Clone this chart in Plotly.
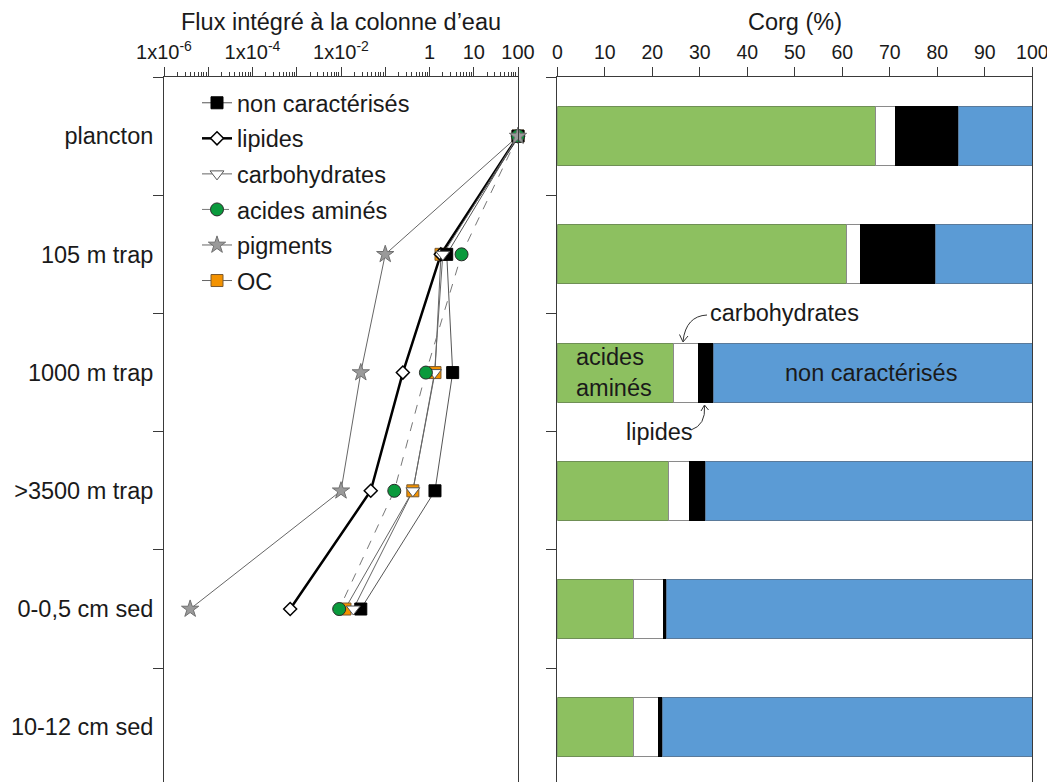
import plotly.graph_objects as go

# ---------------- data ----------------
categories = ["plancton", "105 m trap", "1000 m trap", ">3500 m trap", "0-0,5 cm sed", "10-12 cm sed"]

# Flux intégré à la colonne d'eau (log scale)
flux_non_caract = [100, 2.45, 3.34, 1.33, 0.028, None]
flux_lipides = [100, 1.8, 0.25, 0.047, 7.1e-4, None]
flux_carbo = [100, 2.0, 1.3, 0.42, 0.019, None]
flux_acides = [100, 5.3, 0.83, 0.16, 0.0091, None]
flux_pigments = [100, 0.1, 0.028, 0.01, 3.9e-6, None]
flux_oc = [100, 1.82, 1.33, 0.42, 0.0123, None]

# Corg (%) stacked composition
corg_acides = [67.0, 60.8, 24.4, 23.4, 16.0, 16.0]
corg_carbo = [4.2, 3.1, 5.4, 4.5, 6.3, 5.4]
corg_lipides = [13.2, 15.8, 3.0, 3.3, 0.6, 0.7]
corg_non_caract = [15.6, 20.3, 67.2, 68.8, 77.1, 77.9]

log_tick_vals = [1e-6, 1e-5, 1e-4, 1e-3, 1e-2, 1e-1, 1, 10, 100]
log_tick_text = ["1x10<sup>-6</sup>", "", "1x10<sup>-4</sup>", "", "1x10<sup>-2</sup>", "", "1", "10", "100"]

# ---------------- style / geometry ----------------
OX, OY = 8, 8              # page body margin offset
W, H = 1055 - OX, 782 - OY
TOP = 77 - OY
FONT = "Liberation Sans, Arial, sans-serif"
TXT = "#1a1a1a"
AX = "#3a3a3a"
GREEN_BAR = "#8DC060"
BLUE_BAR = "#5B9BD5"
FS = 23.5


def px(x):
    return (x - OX) / W


def py(y):
    return (H - (y - OY)) / (H - TOP)


series = [
    ("non caractérisés", flux_non_caract, dict(color="#555555", width=1),
     dict(symbol="square", size=12, color="black", line=dict(color="black", width=1))),
    ("lipides", flux_lipides, dict(color="black", width=2.5),
     dict(symbol="diamond", size=10, color="white", line=dict(color="black", width=1.5))),
    ("carbohydrates", flux_carbo, dict(color="#666666", width=1),
     dict(symbol="triangle-down", size=12, color="white", line=dict(color="#555555", width=1))),
    ("acides aminés", flux_acides, dict(color="#777777", width=1, dash="dash"),
     dict(symbol="circle", size=13, color="#0A9A3C", line=dict(color="#2a2a2a", width=1))),
    ("pigments", flux_pigments, dict(color="#666666", width=1),
     dict(symbol="star", size=13, color="#9a9a9a", line=dict(color="#707070", width=1))),
    ("OC", flux_oc, dict(color="#666666", width=1),
     dict(symbol="square", size=12, color="#F39200", line=dict(color="#7a5a30", width=1))),
]

draw_order = ["OC", "lipides", "non caractérisés", "carbohydrates", "acides aminés", "pigments"]
by_name = {s[0]: s for s in series}

fig = go.Figure()

for name in draw_order:
    n, data, line, marker = by_name[name]
    fig.add_trace(go.Scatter(x=data, y=categories, mode="lines", line=line, cliponaxis=False,
                             showlegend=False, hoverinfo="skip", xaxis="x", yaxis="y"))
for name in draw_order:
    n, data, line, marker = by_name[name]
    fig.add_trace(go.Scatter(x=data, y=categories, mode="markers", marker=marker, cliponaxis=False,
                             name=n, showlegend=False, xaxis="x", yaxis="y"))
for n, data, line, marker in series:
    fig.add_trace(go.Scatter(x=[None], y=[None], mode="lines+markers", line=line, marker=marker,
                             name=n, legendgroup=n, showlegend=True, xaxis="x", yaxis="y"))

bar_specs = [
    ("acides aminés", corg_acides, GREEN_BAR, "#6f8f55"),
    ("carbohydrates", corg_carbo, "white", "#8a8a8a"),
    ("lipides", corg_lipides, "black", "black"),
    ("non caractérisés", corg_non_caract, BLUE_BAR, "#5a7a9a"),
]
for n, vals, col, lc in bar_specs:
    fig.add_trace(go.Bar(x=vals, y=categories, orientation="h", width=0.5,
                         marker=dict(color=col, line=dict(color=lc, width=1)),
                         name=n, showlegend=False, xaxis="x2", yaxis="y2"))

yrange = [5.463, -0.5]
common_y = dict(type="category", categoryorder="array", categoryarray=categories,
                range=yrange, tickson="boundaries", ticks="outside", ticklen=10,
                tickcolor=AX, showline=True, mirror=True, linecolor=AX, linewidth=1,
                showgrid=False, zeroline=False, automargin=False)

fig.update_layout(
    width=W, height=H,
    margin=dict(l=0, r=0, t=TOP, b=0, pad=0, autoexpand=False),
    paper_bgcolor="white", plot_bgcolor="white",
    font=dict(family=FONT, color=TXT, size=FS),
    barmode="stack",
    showlegend=True,
    legend=dict(x=px(197), y=py(81), xanchor="left", yanchor="top",
                bgcolor="rgba(0,0,0,0)", font=dict(size=FS, family=FONT, color=TXT),
                tracegroupgap=2, traceorder="grouped"),
    xaxis=dict(domain=[px(164), px(518)], type="log", range=[-6, 2], side="top", anchor="y",
               tickmode="array", tickvals=log_tick_vals, ticktext=log_tick_text,
               ticks="outside", ticklen=9, tickcolor=AX, tickfont=dict(size=20),
               minor=dict(tickmode="array",
                          tickvals=[m * d for d in log_tick_vals[:-1] for m in range(2, 10)],
                          ticks="outside", ticklen=4, tickcolor=AX, showgrid=False),
               showline=True, linecolor=AX, linewidth=1, showgrid=False, zeroline=False,
               automargin=False),
    yaxis=dict(domain=[0, 1], anchor="x", tickfont=dict(size=FS), ticklabelstandoff=5, **common_y),
    xaxis2=dict(domain=[px(557.3), px(1032.3)], range=[0, 100], side="top", anchor="y2",
                tickmode="linear", tick0=0, dtick=10, ticks="outside", ticklen=9,
                tickcolor=AX, tickfont=dict(size=19.5),
                showline=True, linecolor=AX, linewidth=1, showgrid=False, zeroline=False,
                automargin=False),
    yaxis2=dict(domain=[0, 1], anchor="x2", showticklabels=False, **common_y),
)

fig.add_annotation(text="Flux intégré à la colonne d’eau", x=px(341), y=py(22), xref="paper", yref="paper",
                   showarrow=False, font=dict(size=FS), xanchor="center", yanchor="middle")
fig.add_annotation(text="Corg (%)", x=px(795), y=py(22), xref="paper", yref="paper",
                   showarrow=False, font=dict(size=FS), xanchor="center", yanchor="middle")

fig.add_annotation(text="acides<br>aminés", x=3.5, y="1000 m trap", xref="x2", yref="y2",
                   xanchor="left", yanchor="middle", align="left", showarrow=False,
                   font=dict(size=FS))
fig.add_annotation(text="non caractérisés", x=66, y="1000 m trap", xref="x2", yref="y2",
                   xanchor="center", yanchor="middle", showarrow=False, font=dict(size=FS))
fig.add_annotation(text="carbohydrates", x=31.7, y=1.5, xref="x2", yref="y2",
                   xanchor="left", yanchor="middle", showarrow=False, font=dict(size=FS))
fig.add_annotation(text="lipides", x=21.5, y=2.5, xref="x2", yref="y2",
                   xanchor="center", yanchor="middle", showarrow=False, font=dict(size=FS))

arrow_line = dict(color="#333333", width=1)
fig.add_shape(type="path", xref="paper", yref="paper", line=arrow_line,
              path=f"M {px(707)},{py(315)} Q {px(686)},{py(316)} {px(683)},{py(341)}")
fig.add_shape(type="path", xref="paper", yref="paper", line=arrow_line,
              path=f"M {px(679.5)},{py(334.5)} L {px(683)},{py(342)} L {px(688)},{py(336)}")
fig.add_shape(type="path", xref="paper", yref="paper", line=arrow_line,
              path=f"M {px(691)},{py(430)} Q {px(706)},{py(425)} {px(704.5)},{py(406)}")
fig.add_shape(type="path", xref="paper", yref="paper", line=arrow_line,
              path=f"M {px(701)},{py(411)} L {px(704.5)},{py(405)} L {px(708.5)},{py(410)}")

fig.write_html("out.html")
